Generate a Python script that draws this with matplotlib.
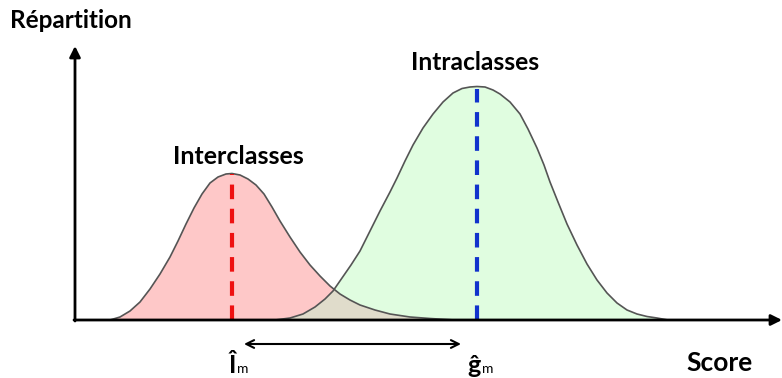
import matplotlib
matplotlib.use("Agg")
import matplotlib.pyplot as plt
from matplotlib.patches import Polygon

plt.rcParams['font.family'] = ['Lato', 'DejaVu Sans']

# score positions and heights of the two distributions
inter_x = [110, 120, 130, 140, 150, 160, 170, 178, 186, 194, 202, 210, 218, 226, 232, 240, 248, 256, 264,
           272, 280, 290, 300, 310, 320, 330, 340, 350, 360, 375, 390, 410, 430, 455]
inter_y = [0, 3, 9, 18, 31, 46, 63, 79, 96, 112, 126, 137, 143, 146, 146.5, 145, 141, 135, 126,
           113, 99, 83, 68, 55, 44, 34, 26, 20, 15, 10, 6, 3, 1.5, 0]

intra_x = [275, 290, 303, 315, 325, 333, 342, 351, 360, 370, 380, 390, 397, 405, 413, 423, 433, 443, 453,
           462, 470, 477, 485, 493, 500, 510, 520, 528, 537, 544, 550, 558, 567, 577, 587, 597, 607, 617,
           627, 637, 647, 657, 668]
intra_y = [0, 2, 6, 13, 21, 29, 42, 55, 69, 89, 109, 128, 142, 159, 175, 192, 206, 218, 227,
           231.5, 233, 233.5, 233, 230, 226, 218, 206, 191, 172, 155, 138, 118, 96, 75, 56, 40, 27, 17,
           10, 6, 3.5, 2, 0]

inter_mean = 232
intra_mean = 477

fig = plt.figure(figsize=(7.82, 3.78), dpi=100)
ax = fig.add_axes([0, 0, 1, 1])
ax.set_xlim(0, 782)
ax.set_ylim(-58, 320)
ax.axis('off')

# green (intraclasses)
green = Polygon(list(zip(intra_x, intra_y)), closed=True, facecolor='#e0fde0', edgecolor='none', zorder=1)
ax.add_patch(green)
# pink (interclasses)
pink = Polygon(list(zip(inter_x, inter_y)), closed=True, facecolor='#fec8c8', edgecolor='none', zorder=2)
ax.add_patch(pink)
# overlap: green shape clipped by pink shape
overlap = Polygon(list(zip(intra_x, intra_y)), closed=True, facecolor='#e0dccb', edgecolor='none', zorder=3)
ax.add_patch(overlap)
overlap.set_clip_path(pink)

ax.plot(inter_x, inter_y, color='#555555', lw=1.2, zorder=4)
ax.plot(intra_x, intra_y, color='#555555', lw=1.2, zorder=4)

# means
ax.plot([inter_mean, inter_mean], [0, max(inter_y)], color='#ee1111', lw=3, dashes=(3.5, 2.3), zorder=5)
ax.plot([intra_mean, intra_mean], [0, max(intra_y) - 2], color='#1133cc', lw=3, dashes=(3.5, 2.3), zorder=5)

# axes with arrows
ax.annotate('', xy=(782, 0), xytext=(74, 0),
            arrowprops=dict(arrowstyle='-|>', lw=2, color='black', mutation_scale=16, shrinkA=0, shrinkB=0), zorder=6)
ax.annotate('', xy=(75, 274), xytext=(75, -1),
            arrowprops=dict(arrowstyle='-|>', lw=2, color='black', mutation_scale=16, shrinkA=0, shrinkB=0), zorder=6)

# double arrow between means
ax.annotate('', xy=(461, -24), xytext=(244, -24),
            arrowprops=dict(arrowstyle='<->', lw=1.5, color='black', mutation_scale=14, shrinkA=0, shrinkB=0))

ax.text(10, 299, 'Répartition', fontsize=17.5, fontweight='bold', ha='left', va='center')
ax.text(720, -43, 'Score', fontsize=19, fontweight='bold', ha='center', va='center')
ax.text(238, 164, 'Interclasses', fontsize=18, fontweight='bold', ha='center', va='center')
ax.text(475, 257, 'Intraclasses', fontsize=17.7, fontweight='bold', ha='center', va='center')

ax.text(236, -53, 'Î', fontsize=18, fontweight='bold', ha='right', va='baseline')
ax.text(237, -53, 'm', fontsize=10, ha='left', va='baseline')
ax.text(481, -53, 'ĝ', fontsize=18, fontweight='bold', ha='right', va='baseline')
ax.text(482, -53, 'm', fontsize=10, ha='left', va='baseline')

fig.savefig('out.png', dpi=100)
